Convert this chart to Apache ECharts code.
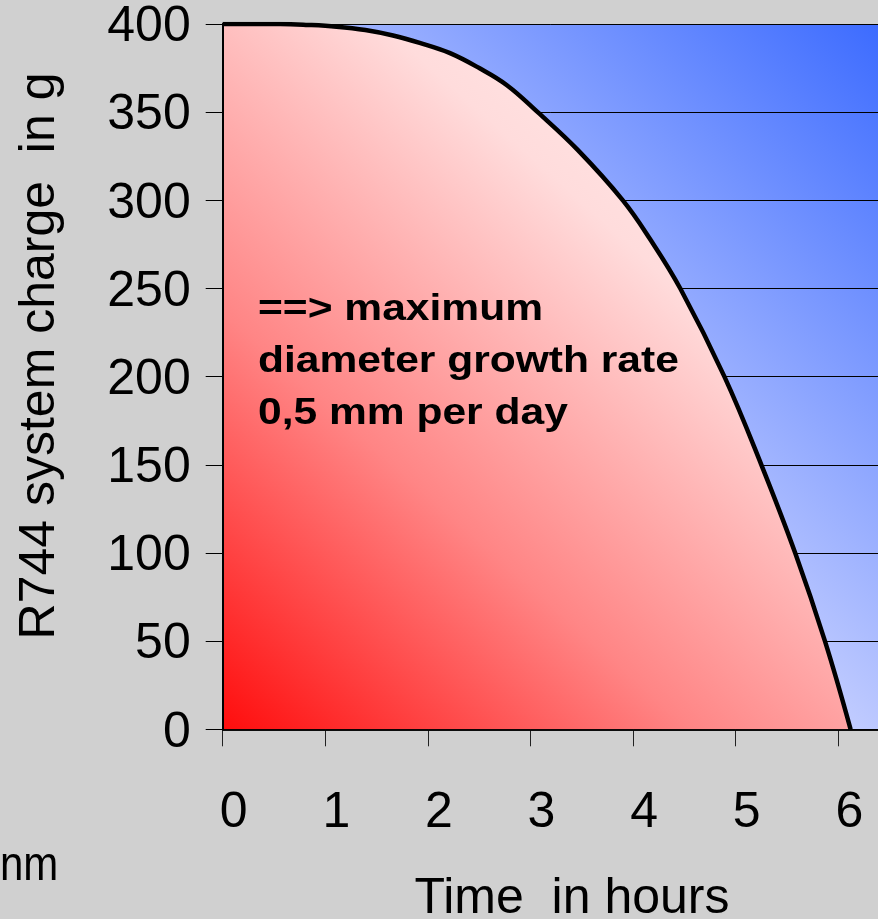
<!DOCTYPE html>
<html><head><meta charset="utf-8">
<script src="https://cdn.jsdelivr.net/npm/echarts@6/dist/echarts.min.js"></script>
<style>html,body{margin:0;padding:0;background:#d0d0d0}#c{width:878px;height:919px}</style>
</head><body><div id="c"></div>
<script>
// ---- data ----
const hours  = [0, 0.3, 0.56, 0.83, 1.11, 1.39, 1.66, 1.92, 2.21, 2.5, 2.77, 3.07, 3.46, 3.9, 4.16, 4.46, 4.89, 5.25, 5.58, 5.87, 6.12];
const charge = [400, 400, 400, 399.5, 398.5, 396.6, 393.5, 389.3, 383.6, 375, 365.3, 350, 328.6, 300, 278.5, 250, 200, 150, 100, 50, 0];
const xTickLabels = ['0', '1', '2', '3', '4', '5', '6'];
const yTickLabels = ['0', '50', '100', '150', '200', '250', '300', '350', '400'];
const yTitle = 'R744 system charge  in g';
const xTitle = 'Time  in hours';
const noteLines = ['==> maximum', 'diameter growth rate', '0,5 mm per day'];

const FONT = '"Liberation Sans", Arial, sans-serif';
const chart = echarts.init(document.getElementById('c'), null, {renderer: 'canvas'});

const blueBg = new echarts.graphic.LinearGradient(1, 0, 0, 1, [
  {offset: 0, color: '#3163ff'},
  {offset: 0.55, color: '#c0cbff'},
  {offset: 1, color: '#f0f3ff'}
]);
const redFill = new echarts.graphic.LinearGradient(0, 1, 1, 0, [
  {offset: 0, color: '#ff0d0d'},
  {offset: 0.33, color: '#ff8585'},
  {offset: 0.67, color: '#ffdcdc'},
  {offset: 1, color: '#fff2f2'}
]);

const GL = 222.7, GT = 24, GH = 705.3, GW = 718.2;

const option = {
  animation: false,
  backgroundColor: '#d0d0d0',
  grid: {left: GL, top: GT, width: GW, height: GH, show: true, backgroundColor: blueBg, borderWidth: 0,
         containLabel: false, outerBoundsMode: 'none'},
  xAxis: [{
    type: 'value', min: 0, max: 7, interval: 1,
    axisLine: {show: true, onZero: false, lineStyle: {color: '#000', width: 1.5}},
    axisTick: {show: true, inside: false, length: 17, lineStyle: {color: '#222', width: 1}},
    axisLabel: {
      fontSize: 50, fontFamily: FONT, color: '#000', margin: 59, padding: [0, 0, 0, 22],
      formatter: v => (v >= 0 && v < xTickLabels.length) ? xTickLabels[v] : ''
    },
    splitLine: {show: false}
  }, {
    type: 'value', min: 0, max: 7, interval: 1, position: 'bottom', z: 10,
    axisLine: {show: true, onZero: false, lineStyle: {color: '#000', width: 1.5}},
    axisTick: {show: false}, axisLabel: {show: false}, splitLine: {show: false}
  }],
  yAxis: [{
    type: 'value', min: 0, max: 400, interval: 50,
    axisLine: {show: true, lineStyle: {color: '#000', width: 2}},
    axisTick: {show: true, length: 17, lineStyle: {color: '#000', width: 1}},
    axisLabel: {
      fontSize: 50, fontFamily: FONT, color: '#000', margin: 32,
      verticalAlign: 'top', lineHeight: 7,
      formatter: v => yTickLabels[Math.round(v / 50)]
    },
    splitLine: {show: true, lineStyle: {color: '#000', width: 1}}
  }, {
    type: 'value', min: 0, max: 400, interval: 50, position: 'left', z: 10,
    axisLine: {show: true, lineStyle: {color: '#000', width: 2}},
    axisTick: {show: false}, axisLabel: {show: false}, splitLine: {show: false}
  }],
  series: [{
    type: 'line',
    xAxisIndex: 0, yAxisIndex: 0,
    data: hours.map((h, i) => [h, charge[i]]),
    showSymbol: false,
    smooth: 0.4,
    lineStyle: {color: '#000', width: 4.5},
    areaStyle: {color: redFill, opacity: 1}
  }],
  graphic: [
    {type: 'text', x: 40.5, y: 356, rotation: Math.PI / 2,
     style: {text: yTitle, font: '50px ' + FONT, fill: '#000', align: 'center', verticalAlign: 'middle'}},
    {type: 'text', x: 572, y: 899,
     style: {text: xTitle, font: '50px ' + FONT, fill: '#000', align: 'center', verticalAlign: 'middle'}},
    {type: 'text', x: 0, y: 867, originX: 0, originY: 0, scaleY: 1.15,
     style: {text: 'nm', font: '42px ' + FONT, fill: '#000', align: 'left', verticalAlign: 'middle'}},
    ...noteLines.map((t, i) => ({
      type: 'text', x: 258, y: 310 + i * 52, originX: 0, originY: 0, scaleX: 1.15, z: 100,
      style: {text: t, font: 'bold 37px ' + FONT, fill: '#000', align: 'left', verticalAlign: 'middle'}
    }))
  ]
};
chart.setOption(option);
</script>
</body></html>
